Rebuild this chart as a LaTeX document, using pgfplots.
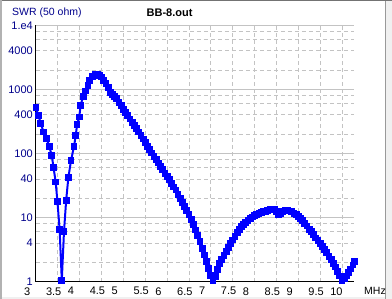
\documentclass[border=0pt]{standalone}
\usepackage{pgfplots}
\pgfplotsset{compat=1.18}
\usepackage{fontspec}
\setmainfont{Liberation Sans}
\definecolor{navyblue}{RGB}{0,0,140}
\definecolor{gridgray}{RGB}{195,195,195}
\begin{document}
\begin{tikzpicture}[x=1pt,y=1pt]
\useasboundingbox (0,0) rectangle (392,299);
\fill[white] (0,0) rectangle (392,299);
\fill[black!6] (385,0) rectangle (392,299);
\fill[black!6] (0,0) rectangle (392,2);
\draw[black!40,line width=1pt] (385,0) -- (385,299);
\draw[black!55,line width=2pt] (0,299) -- (392,299);
\draw[black!30,line width=1.5pt] (1,0) -- (1,299);
\begin{axis}[
  at={(36pt,17.3pt)}, anchor=south west,
  scale only axis, width=318.3pt, height=256.4pt,
  xmin=3, xmax=10.28, ymin=1, ymax=10000, ymode=log,
  axis x line*=bottom, axis y line*=left,
  axis line style={-, black, line width=1pt},
  major tick length=0pt, minor tick length=0pt,
  /pgf/number format/assume math mode=true,
  xtick={3,3.5,4,4.5,5,5.5,6,6.5,7,7.5,8,8.5,9,9.5,10},
  xticklabels={3,3.5,4,4.5,5,5.5,6,6.5,7,7.5,8,8.5,9,9.5,10},
  xticklabel style={anchor=north west, inner sep=0pt, xshift=-12pt, yshift=-5.5pt, font=\fontsize{11}{13}\selectfont, black},
  ytick={1,4,10,40,100,400,1000,4000,10000},
  yticklabels={1,4,10,40,100,400,1000,4000,1.e4},
  yticklabel style={anchor=east, inner sep=0pt, xshift=-3pt, font=\fontsize{11}{13}\selectfont, text=navyblue},
  minor ytick={2,4,6,8,20,40,60,80,200,400,600,800,2000,4000,6000,8000},
  xmajorgrids=true, ymajorgrids=false, yminorgrids=true,
  major x grid style={gridgray, line width=1pt, dash pattern=on 4pt off 3pt},
  minor y grid style={gridgray, line width=1pt, dash pattern=on 4pt off 3pt},
  extra y ticks={10,100,1000,10000},
  extra y tick labels={},
  extra y tick style={grid=major, major grid style={gridgray, line width=1pt, solid}},
]
\addplot[color={rgb,255:red,0;green,0;blue,255}, line width=2pt, mark=square*, mark size=2.4pt, mark options={solid}] coordinates {
(3.00,521) (3.05,395) (3.11,295) (3.17,217) (3.24,173) (3.30,130) (3.36,94) (3.40,61) (3.45,36) (3.49,18) (3.54,6.5) (3.59,1.05)
(3.64,6) (3.69,18.7) (3.74,42) (3.80,77) (3.87,130) (3.91,193) (3.94,285) (3.99,372) (4.02,565) (4.08,781) (4.14,944) (4.19,1159) (4.23,1387) (4.30,1600) (4.35,1720)
(4.40,1738) (4.45,1660) (4.50,1560) (4.55,1396) (4.60,1250) (4.65,1059) (4.70,900) (4.75,832) (4.80,776) (4.85,719) (4.90,631) (4.95,553)
(5.00,485) (5.05,434) (5.10,386) (5.15,345) (5.20,308) (5.25,275) (5.30,245) (5.35,216) (5.40,191) (5.45,168) (5.50,148) (5.55,130)
(5.60,115) (5.65,102) (5.70,90) (5.75,80) (5.80,71) (5.85,63) (5.90,56) (5.95,49) (6.00,44) (6.05,39) (6.10,34) (6.15,30)
(6.20,27) (6.25,23) (6.30,20) (6.35,17.4) (6.40,15) (6.45,13) (6.50,11.2) (6.55,9.3) (6.60,7.8) (6.65,6.4) (6.70,5.2) (6.75,4.2)
(6.80,3.3) (6.85,2.6) (6.90,2.04) (6.95,1.6) (7.00,1.26) (7.05,1.04) (7.10,1.2) (7.15,1.55) (7.20,1.94) (7.25,2.24) (7.30,2.57) (7.35,2.99)
(7.40,3.43) (7.45,3.94) (7.50,4.47) (7.55,5.13) (7.60,5.82) (7.65,6.6) (7.70,7.24) (7.75,7.85) (7.80,8.5) (7.85,9.1) (7.90,9.8) (7.95,10.2)
(8.00,10.7) (8.05,11.2) (8.10,11.6) (8.15,12.0) (8.20,12.3) (8.25,12.6) (8.30,12.9) (8.35,13.2) (8.40,13.3) (8.45,13.2) (8.50,12.6) (8.55,11.0)
(8.60,11.5) (8.65,12.6) (8.70,13.0) (8.75,13.0) (8.80,12.7) (8.85,12.3) (8.90,11.7) (8.95,11.1) (9.00,10.5) (9.05,9.8) (9.10,9.0) (9.15,8.2)
(9.20,7.4) (9.25,6.6) (9.30,6.0) (9.35,5.4) (9.40,4.8) (9.45,4.4) (9.50,3.9) (9.55,3.5) (9.60,3.16) (9.65,2.85) (9.70,2.5) (9.75,2.2)
(9.80,1.95) (9.85,1.7) (9.90,1.45) (9.95,1.23) (10.00,1.05) (10.05,1.12) (10.10,1.23) (10.15,1.38) (10.20,1.58) (10.25,1.82) (10.28,2.05)
};
\end{axis}
\node[anchor=west, inner sep=0pt, text=navyblue, font=\fontsize{10.5}{12}\selectfont] at (12,286) {SWR (50 ohm)};
\node[anchor=west, inner sep=0pt, font=\fontsize{11}{13}\selectfont\bfseries] at (146.5,286) {BB-8.out};
\node[anchor=west, inner sep=0pt, font=\fontsize{10.5}{12}\selectfont] at (364,8) {MHz};
\end{tikzpicture}
\end{document}
